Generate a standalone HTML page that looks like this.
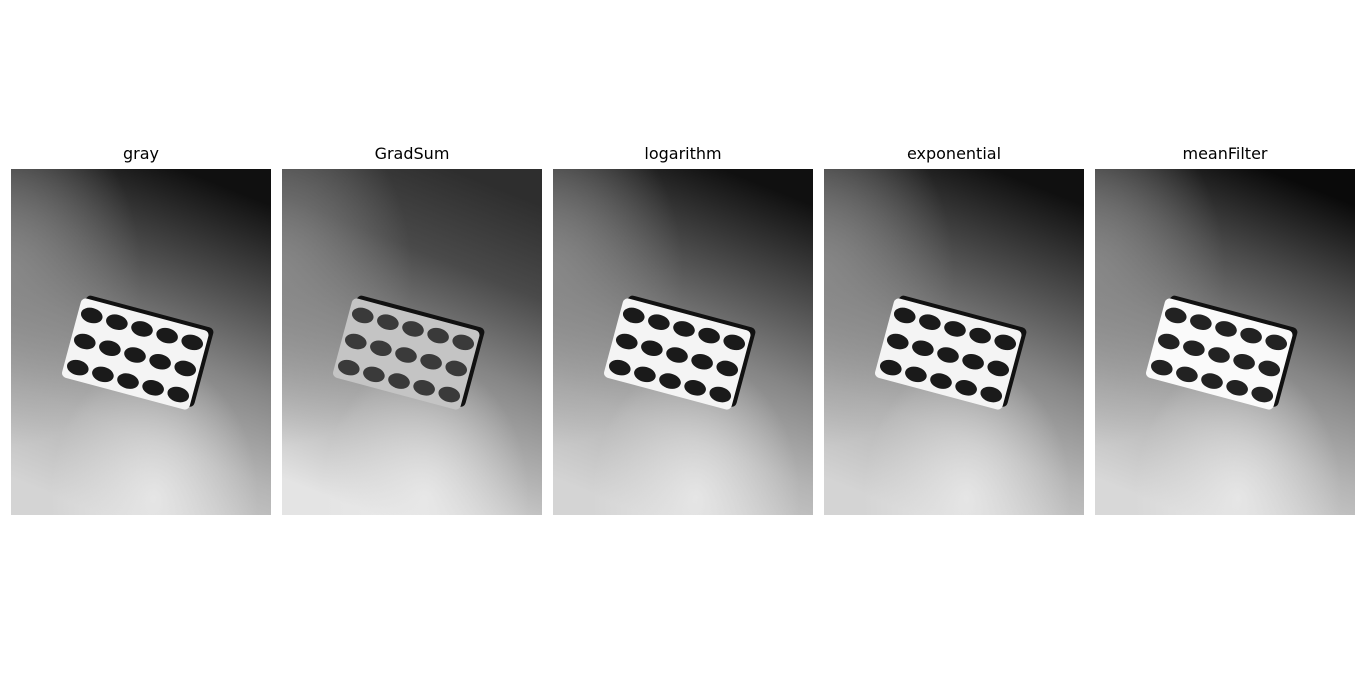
<!DOCTYPE html>
<html><head><meta charset="utf-8"><style>
body{margin:0;width:1366px;height:684px;background:#fff;overflow:hidden;font-family:"Liberation Sans","DejaVu Sans",sans-serif;}
.panel{position:absolute;top:169px;width:260px;height:346px;}
.title{position:absolute;top:144px;width:260px;text-align:center;font-size:16px;color:#000;font-family:"DejaVu Sans","Liberation Sans",sans-serif;}
</style></head><body>
<div id="root"></div>
<script>
const titles=["gray","GradSum","logarithm","exponential","meanFilter"];
const lefts=[11,282,553,824,1095];
const topDark=["#101010","#2e2e2e","#101010","#101010","#0a0a0a"];
const botLight=["#d4d4d4","#e4e4e4","#d4d4d4","#d4d4d4","#d8d8d8"];
const packFill=["#f4f4f4","#c4c4c4","#f4f4f4","#f4f4f4","#fafafa"];
const pillFill=["#1a1a1a","#3a3a3a","#1a1a1a","#1a1a1a","#222"];
const root=document.getElementById('root');
titles.forEach((t,i)=>{
  const tt=document.createElement('div');
  tt.className='title';tt.style.left=lefts[i]+'px';tt.textContent=t;
  
  
  root.appendChild(tt);
  let pills='';
  for(let r=0;r<3;r++)for(let c=0;c<5;c++){
    pills+=`<ellipse cx="${-52+c*26}" cy="${-27+r*27}" rx="11" ry="7.5" fill="${pillFill[i]}"/>`;
  }
  const p=document.createElement('div');
  p.className='panel';p.style.left=lefts[i]+'px';
  
  
  p.innerHTML=`<svg width="260" height="346" viewBox="0 0 260 346">
<defs>
<linearGradient id="g${i}" x1="0.65" y1="0" x2="0.35" y2="1">
<stop offset="0" stop-color="${topDark[i]}"/><stop offset="0.25" stop-color="#4a4a4a"/>
<stop offset="0.5" stop-color="#858585"/><stop offset="0.75" stop-color="#b4b4b4"/><stop offset="1" stop-color="${botLight[i]}"/></linearGradient>
<radialGradient id="r${i}" cx="0" cy="0.3" r="0.5"><stop offset="0" stop-color="#8a8a8a" stop-opacity="0.85"/><stop offset="1" stop-color="#8a8a8a" stop-opacity="0"/></radialGradient>
<radialGradient id="b${i}" cx="0.55" cy="0.95" r="0.4"><stop offset="0" stop-color="#ededed" stop-opacity="0.8"/><stop offset="1" stop-color="#ededed" stop-opacity="0"/></radialGradient>
</defs>
<rect width="260" height="346" fill="url(#g${i})"/>
<rect width="260" height="346" fill="url(#r${i})"/>
<rect width="260" height="346" fill="url(#b${i})"/>
<g transform="translate(124,186) rotate(15)">
<rect x="-66" y="-42" width="132" height="82" rx="5" fill="#111" transform="translate(4,-4)"/>
<rect x="-66" y="-42" width="132" height="82" rx="5" fill="${packFill[i]}"/>
${pills}
</g></svg>`;
  root.appendChild(p);
});
</script>
</body></html>
